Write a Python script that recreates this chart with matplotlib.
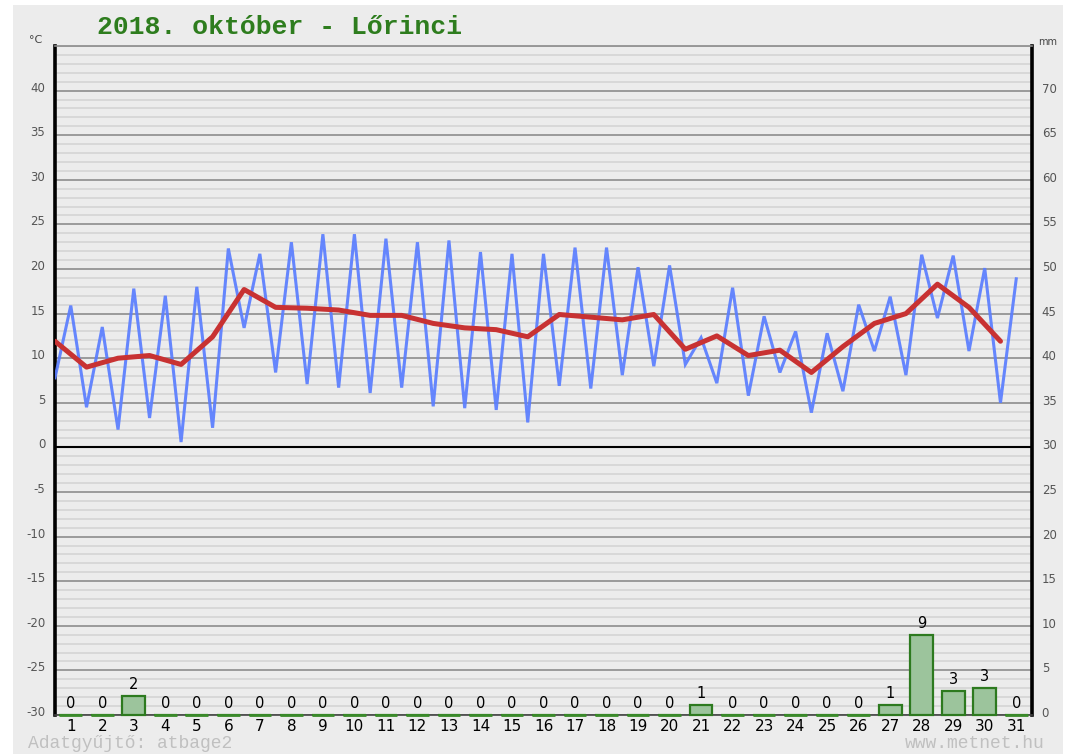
import matplotlib
matplotlib.use("Agg")
import matplotlib.pyplot as plt
import matplotlib.transforms as mtransforms
from matplotlib.patches import Rectangle
from matplotlib.ticker import MultipleLocator, FixedLocator
import numpy as np

plt.rcParams["axes.unicode_minus"] = False

# ---- data ----
days = list(range(1, 32))
tmin = [7.8, 4.5, 2.0, 3.3, 0.6, 2.2, 13.4, 8.4, 7.1, 6.7, 6.1, 6.7, 4.6, 4.4, 4.2, 2.8,
        6.9, 6.6, 8.1, 9.1, 9.3, 7.2, 5.8, 8.4, 3.9, 6.3, 10.8, 8.1, 14.5, 10.8, 5.0]
tmax = [15.9, 13.5, 17.8, 17.0, 18.0, 22.3, 21.7, 23.0, 23.9, 23.9, 23.4, 23.0, 23.2, 21.9,
        21.7, 21.7, 22.4, 22.4, 20.2, 20.4, 12.3, 17.9, 14.7, 13.0, 12.8, 16.0, 16.9, 21.6,
        21.5, 20.1, 18.9]
tmean = [11.9, 9.0, 10.0, 10.3, 9.3, 12.4, 17.7, 15.7, 15.6, 15.4, 14.8, 14.8, 13.9, 13.4,
         13.2, 12.4, 14.9, 14.6, 14.3, 14.9, 11.0, 12.5, 10.3, 10.9, 8.4, 11.3, 13.9, 15.0,
         18.3, 15.7, 11.9]
precip = [0, 0, 2.1, 0, 0, 0, 0, 0, 0, 0, 0, 0, 0, 0, 0, 0, 0, 0, 0, 0, 1.1, 0, 0, 0, 0, 0,
          1.1, 9.0, 2.7, 3.0, 0]
temp_ticks = list(range(-30, 41, 5))
mm_ticks = list(range(0, 71, 5))
title = "2018. október - Lőrinci"

# ---- figure ----
W, H = 1080, 754
fig = plt.figure(figsize=(W / 100, H / 100), dpi=100, facecolor="white")
BG = "#ececec"
fig.patches.append(Rectangle((13 / W, 0), (1063 - 13) / W, 1 - 5 / H,
                             transform=fig.transFigure, facecolor=BG, edgecolor="none",
                             zorder=-10))

L, R, T, B = 55, 1032, 46, 715
ax = fig.add_axes([L / W, 1 - B / H, (R - L) / W, (B - T) / H])
ax.set_facecolor(BG)
ax.set_xlim(0.5, 31.5)
ax.set_ylim(-30, 45)

ax.yaxis.set_major_locator(FixedLocator(temp_ticks))
ax.yaxis.set_minor_locator(MultipleLocator(1))
ax.grid(which="minor", axis="y", color="#d6d6d6", lw=1.3, zorder=0)
ax.grid(which="major", axis="y", color="#9a9a9a", lw=1.4, zorder=0)
ax.axhline(0, color="black", lw=1.5, zorder=1)
ax.set_axisbelow(True)

ax.tick_params(axis="y", which="both", length=0, labelsize=8.5, labelcolor="#555555", pad=7)
ax.tick_params(axis="x", which="both", length=0, labelsize=11, labelcolor="black", pad=3)
ax.set_xticks(days)
ax.set_xticklabels([str(d) for d in days])
off_up = mtransforms.ScaledTranslation(0, 4 / 100, fig.dpi_scale_trans)
for lab in ax.get_yticklabels():
    lab.set_transform(lab.get_transform() + off_up)

for s in ["left", "right"]:
    ax.spines[s].set_color("black")
    ax.spines[s].set_linewidth(2.6)
ax.spines["top"].set_color("#8a8a8a")
ax.spines["top"].set_linewidth(1.2)
ax.spines["bottom"].set_color("#444444")
ax.spines["bottom"].set_linewidth(1.2)

# temperature lines
x_blue, y_blue = [], []
for d, lo, hi in zip(days, tmin, tmax):
    x_blue += [d - 0.5, d]
    y_blue += [lo, hi]
ax.plot(x_blue, y_blue, color="#5a7dff", lw=2.2, alpha=0.92, zorder=4,
        solid_joinstyle="miter")
ax.plot([d - 0.5 for d in days], tmean, color="#c83232", lw=3.6, zorder=5,
        solid_joinstyle="round", solid_capstyle="round")

# precipitation axis
ax2 = ax.twinx()
ax2.set_ylim(0, 75)
ax2.set_yticks(mm_ticks)
ax2.set_yticklabels([str(v) for v in mm_ticks])
ax2.tick_params(axis="y", length=0, labelsize=8.5, labelcolor="#555555", pad=7)
off_up2 = mtransforms.ScaledTranslation(0, 3 / 100, fig.dpi_scale_trans)
for lab in ax2.get_yticklabels():
    lab.set_transform(lab.get_transform() + off_up2)
for s in ax2.spines.values():
    s.set_visible(False)

BAR_W = 0.72
ax2.bar(days, precip, width=BAR_W, color="#9cc49c", edgecolor="#2d7a1f", lw=1.6,
        zorder=3, clip_on=False)
zero_days = [d for d, p in zip(days, precip) if p == 0]
ax2.hlines([0] * len(zero_days), [d - BAR_W / 2 for d in zero_days],
           [d + BAR_W / 2 for d in zero_days], colors="#3a8a2a", lw=2.0, zorder=4,
           clip_on=False)
for d, p in zip(days, precip):
    ax2.annotate(f"{round(p):d}", (d, p), xytext=(0, 3), textcoords="offset points",
                 ha="center", va="bottom", fontsize=10.5, color="black")

# texts
fig.text(36 / W, 1 - 40 / H, "°C", ha="center", va="center", fontsize=8, color="#444444")
fig.text(1048 / W, 1 - 42 / H, "mm", ha="center", va="center", fontsize=7, color="#444444")
fig.text(97 / W, 1 - 27 / H, title, ha="left", va="center", fontsize=19,
         family="Liberation Mono", weight="bold", color="#2e7d1e")
fig.text(28 / W, 1 - 744 / H, "Adatgyűjtő: atbage2", ha="left", va="center",
         fontsize=13, family="Liberation Mono", color="#c0c0c0")
fig.text(1045 / W, 1 - 744 / H, "www.metnet.hu", ha="right", va="center",
         fontsize=13, family="Liberation Mono", color="#c0c0c0")

fig.savefig("out.png", dpi=100, facecolor="white")
